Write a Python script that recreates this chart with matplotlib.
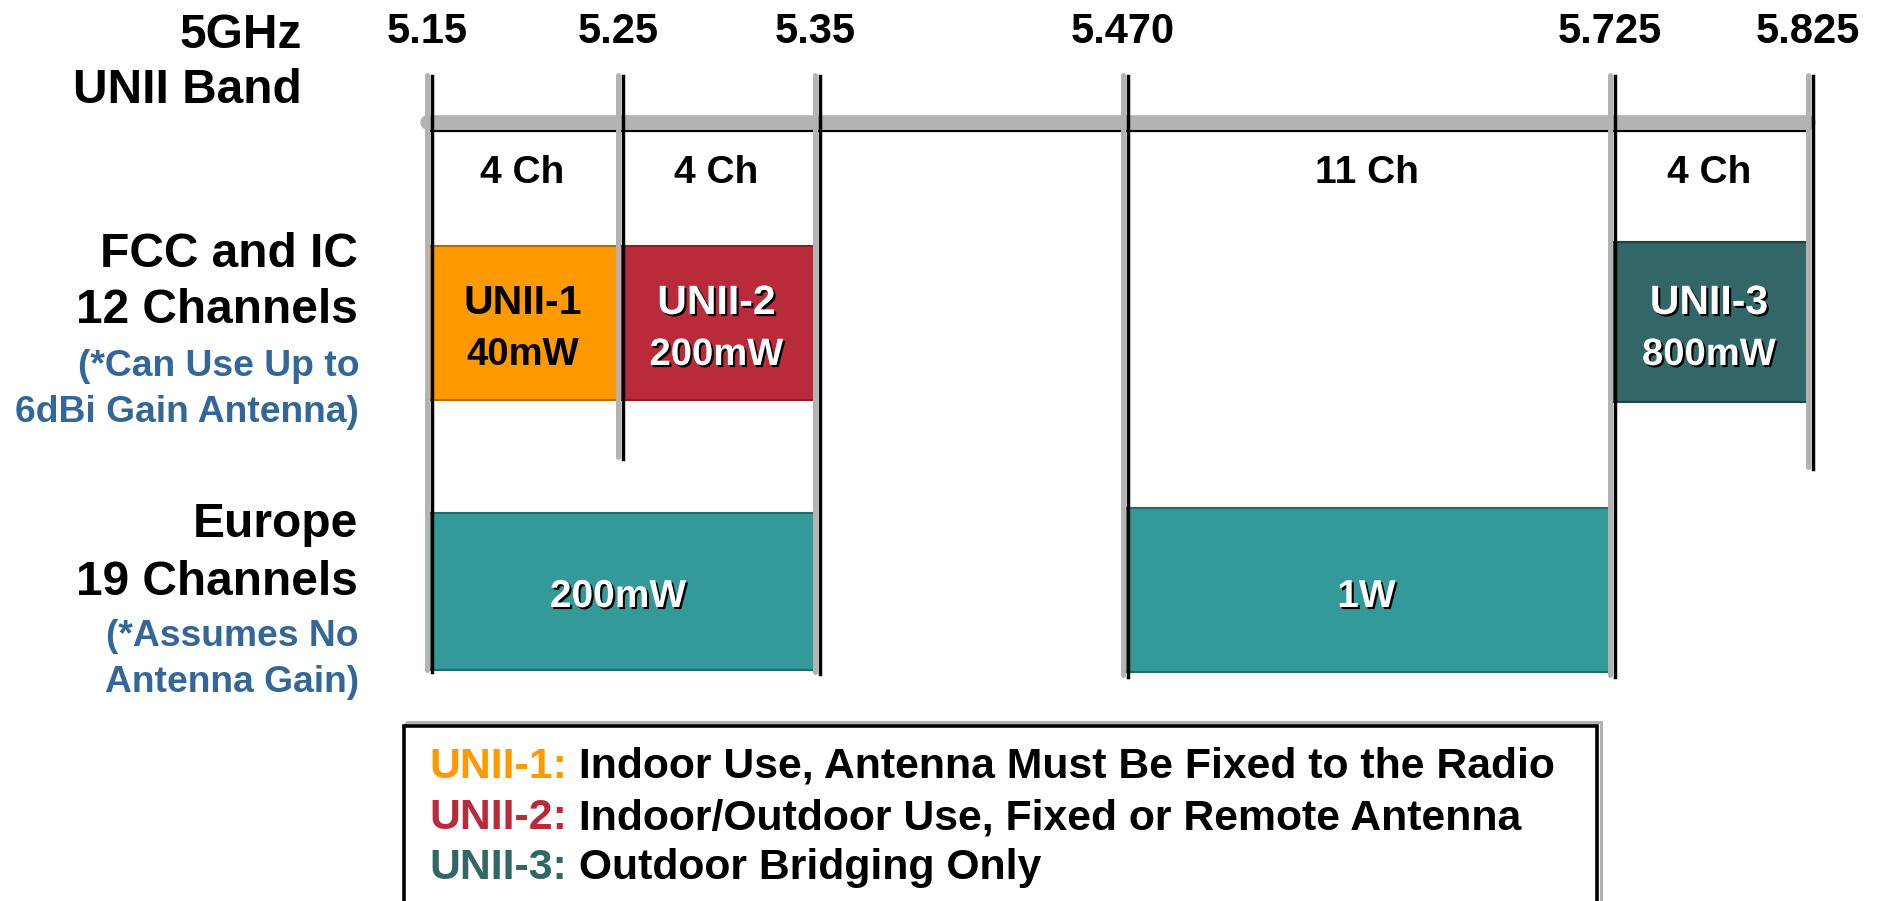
import numpy as np
import matplotlib
matplotlib.use('Agg')
import matplotlib.pyplot as plt
import matplotlib.patheffects as pe
from matplotlib.patches import Rectangle
from matplotlib import transforms

plt.rcParams['font.family'] = ['Liberation Sans', 'DejaVu Sans']
plt.rcParams['font.weight'] = 'bold'


# band edges (GHz)
edges = [5.15, 5.25, 5.35, 5.470, 5.725, 5.825]
edge_labels = ['5.15', '5.25', '5.35', '5.470', '5.725', '5.825']

# channel counts per sub-band
ch_lo = [5.15, 5.25, 5.470, 5.725]
ch_hi = [5.25, 5.35, 5.725, 5.825]
ch_labels = ['4 Ch', '4 Ch', '11 Ch', '4 Ch']

# FCC / IC bands
fcc_lo = [5.15, 5.25, 5.725]
fcc_hi = [5.25, 5.35, 5.825]
fcc_names = ['UNII-1', 'UNII-2', 'UNII-3']
fcc_power = ['40mW', '200mW', '800mW']

# Europe bands
eu_lo = [5.15, 5.470]
eu_hi = [5.35, 5.725]
eu_power = ['200mW', '1W']

legend_names = ['UNII-1:', 'UNII-2:', 'UNII-3:']
legend_desc = ['Indoor Use, Antenna Must Be Fixed to the Radio',
               'Indoor/Outdoor Use, Fixed or Remote Antenna',
               'Outdoor Bridging Only']


# colours
orange = '#ff9900'
red = '#b92b3a'
dteal = '#336666'
teal = '#339999'
blue = '#336699'
grey = '#b3b3b3'
fcc_fill = [orange, red, dteal]
fcc_edge = ['#b36b00', '#8a1f2b', '#204444']
fcc_txt = ['black', 'white', 'white']


W, H = 1881, 901
fig = plt.figure(figsize=(W / 100, H / 100), dpi=100)
fig.patch.set_facecolor('white')

# frequency axis, the drawing is not to scale so use a piecewise map
anchor_f = [4.80, 5.15, 5.25, 5.35, 5.470, 5.725, 5.825, 6.20]
anchor_px = [427 - 0.35 * 1910, 427, 618, 815, 1123, 1610, 1808, 1808 + 0.375 * 1980]

def fwd(f):
    return np.interp(f, anchor_f, anchor_px)

def inv(p):
    return np.interp(p, anchor_px, anchor_f)

ax = fig.add_axes([0, 0, 1, 1])
ax.set_xscale('function', functions=(fwd, inv))
ax.set_xlim(inv(0), inv(W))
ax.set_ylim(H, 0)
ax.axis('off')

# overlay in pixel units for the side labels and the legend box
ax2 = fig.add_axes([0, 0, 1, 1])
ax2.set_xlim(0, W)
ax2.set_ylim(H, 0)
ax2.axis('off')
ax2.patch.set_alpha(0)

shadow = [pe.withSimplePatchShadow(offset=(1.5, -1.5), shadow_rgbFace='black', alpha=1.0)]
black_tr = transforms.offset_copy(ax.transData, fig=fig, x=4.5, y=0, units='dots')


# horizontal band bar
ax.plot([edges[0], edges[-1]], [122, 122], color=grey, lw=10.5, solid_capstyle='round', zorder=2)
ax.plot([edges[0], edges[-1]], [131, 131], color='black', lw=1.6, zorder=3)

# vertical edge markers
line_bottom = [670, 457, 672, 675, 675, 467]
for f, yb in zip(edges, line_bottom):
    ax.plot([f, f], [75, yb], color=grey, lw=3.6, solid_capstyle='round', zorder=4)
    ax.plot([f, f], [76, yb + 2], color='black', lw=2.5, transform=black_tr, zorder=5)

for f, lab in zip(edges, edge_labels):
    ax.text(f, 43, lab, fontsize=30, ha='center', va='baseline', zorder=6)

for lo, hi, lab in zip(ch_lo, ch_hi, ch_labels):
    ax.text((lo + hi) / 2, 183, lab, fontsize=28, ha='center', va='baseline')

# FCC boxes
fcc_top = [246, 246, 242]
fcc_bot = [400, 400, 402]
for i in range(len(fcc_lo)):
    ax.add_patch(Rectangle((fcc_lo[i], fcc_top[i]), fcc_hi[i] - fcc_lo[i], fcc_bot[i] - fcc_top[i],
                           facecolor=fcc_fill[i], edgecolor=fcc_edge[i], lw=1.5, zorder=1))
    xc = (fcc_lo[i] + fcc_hi[i]) / 2
    eff = shadow if fcc_txt[i] == 'white' else None
    ax.text(xc, 314, fcc_names[i], fontsize=29.5, ha='center', va='baseline',
            color=fcc_txt[i], path_effects=eff)
    ax.text(xc, 365, fcc_power[i], fontsize=27.5, ha='center', va='baseline',
            color=fcc_txt[i], path_effects=eff)

# Europe boxes
eu_top = [513, 508]
eu_bot = [670, 672]
for i in range(len(eu_lo)):
    ax.add_patch(Rectangle((eu_lo[i], eu_top[i]), eu_hi[i] - eu_lo[i], eu_bot[i] - eu_top[i],
                           facecolor=teal, edgecolor='#236b6b', lw=1.5, zorder=1))
    ax.text((eu_lo[i] + eu_hi[i]) / 2, 607, eu_power[i], fontsize=28, ha='center',
            va='baseline', color='white', path_effects=shadow)


# left side labels
ax2.text(302, 48, '5GHz', fontsize=34.5, ha='right', va='baseline')
ax2.text(302, 103, 'UNII Band', fontsize=34.5, ha='right', va='baseline')

ax2.text(358, 267, 'FCC and IC', fontsize=34.5, ha='right', va='baseline')
ax2.text(358, 323, '12 Channels', fontsize=34.5, ha='right', va='baseline')
ax2.text(359, 376, '(*Can Use Up to', fontsize=26.8, ha='right', va='baseline', color=blue)
ax2.text(359, 422, '6dBi Gain Antenna)', fontsize=26.8, ha='right', va='baseline', color=blue)

ax2.text(358, 537, 'Europe', fontsize=34.5, ha='right', va='baseline')
ax2.text(358, 595, '19 Channels', fontsize=34.5, ha='right', va='baseline')
ax2.text(359, 646, '(*Assumes No', fontsize=26.8, ha='right', va='baseline', color=blue)
ax2.text(359, 692, 'Antenna Gain)', fontsize=26.8, ha='right', va='baseline', color=blue)


# legend box
ax2.add_patch(Rectangle((406, 722), 1195, 250, facecolor='none', edgecolor=grey, lw=2.2, zorder=1))
ax2.add_patch(Rectangle((404, 726), 1193, 250, facecolor='white', edgecolor='black', lw=2.6, zorder=2))

leg_y = [778, 829, 879]
for name, desc, col, y in zip(legend_names, legend_desc, fcc_fill, leg_y):
    t = ax2.text(429, y, name, fontsize=30.8, ha='left', va='baseline', color=col, zorder=3)
    ax2.annotate(' ' + desc, xy=(1, 0), xycoords=t, fontsize=30.8, ha='left', va='bottom',
                 color='black', zorder=3)

plt.savefig('out.png', dpi=100)
